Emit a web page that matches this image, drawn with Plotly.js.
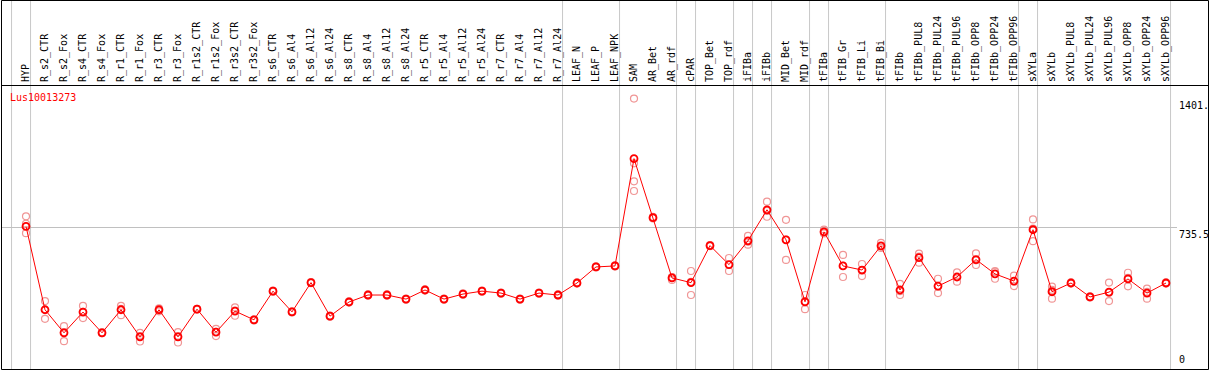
<!DOCTYPE html>
<html>
<head>
<meta charset="utf-8">
<script src="https://cdn.plot.ly/plotly-3.0.1.min.js"></script>
<style>html,body{margin:0;padding:0;background:#fff;}#chart{width:1209px;height:370px;}</style>
</head>
<body>
<div id="chart"></div>
<script>
const categories = ['HYP','R_s2_CTR','R_s2_Fox','R_s4_CTR','R_s4_Fox','R_r1_CTR','R_r1_Fox','R_r3_CTR','R_r3_Fox','R_r1s2_CTR','R_r1s2_Fox','R_r3s2_CTR','R_r3s2_Fox','R_s6_CTR','R_s6_Al4','R_s6_Al12','R_s6_Al24','R_s8_CTR','R_s8_Al4','R_s8_Al12','R_s8_Al24','R_r5_CTR','R_r5_Al4','R_r5_Al12','R_r5_Al24','R_r7_CTR','R_r7_Al4','R_r7_Al12','R_r7_Al24','LEAF_N','LEAF_P','LEAF_NPK','SAM','AR_Bet','AR_rdf','cPAR','TOP_Bet','TOP_rdf','iFIBa','iFIBb','MID_Bet','MID_rdf','tFIBa','tFIB_Gr','tFIB_Li','tFIB_Bi','tFIBb','tFIBb_PUL8','tFIBb_PUL24','tFIBb_PUL96','tFIBb_OPP8','tFIBb_OPP24','tFIBb_OPP96','sXYLa','sXYLb','sXYLb_PUL8','sXYLb_PUL24','sXYLb_PUL96','sXYLb_OPP8','sXYLb_OPP24','sXYLb_OPP96'];

const meanValues = [741,311,192,299,192,311,171,311,171,314,195,304,259,407,300,451,278,351,387,387,366,413,366,392,407,397,366,397,387,449,532,537,1091,786,475,451,642,544,667,827,672,352,713,537,516,641,413,580,433,480,570,496,459,724,404,449,377,402,470,397,449];

const rep1 = [793,356,226,331,195,331,192,318,195,316,212,323,262,410,303,454,281,354,390,390,369,416,369,395,410,400,369,400,390,452,535,540,1401,790,480,511,645,578,692,869,775,387,725,594,547,656,445,601,471,504,602,507,487,777,430,452,380,451,502,420,452];
const rep2 = [755,264,149,268,190,283,147,303,142,312,175,280,256,404,297,448,275,348,384,384,363,410,363,389,404,394,363,394,384,446,529,534,1067,782,465,387,639,511,647,791,568,314,705,480,485,630,387,554,397,456,542,471,433,665,368,446,374,356,432,368,446];
const rep3 = [706,311,195,300,192,315,175,311,175,314,197,306,259,407,300,451,278,351,387,387,366,413,366,392,407,397,366,397,387,449,532,537,974,786,478,455,642,543,662,821,673,355,710,537,516,638,407,585,431,480,566,510,457,730,414,449,377,399,476,403,449];
const rep4 = categories.map(c => c === 'SAM' ? 924 : null);

const groupEnds = ['HYP','R_r7_Al24','LEAF_NPK','AR_rdf','cPAR','TOP_rdf','iFIBa','iFIBb','MID_rdf','tFIBa','tFIB_Bi','tFIBb_OPP96','sXYLa','sXYLb_OPP96'];
const geneName = 'Lus10013273';
const yTickVals = [0, 735.5, 1401];
const yTickText = ['0', '735.5', '1401.'];

const yMax = 1401 * 1.05;
const W = 1209, H = 370, ML = 2, MR = 32, MT = 85, MB = 0;
const PW = W - ML - MR, PH = H - MT - MB;
const px = v => (v - ML) / PW;
const py = v => 1 - (v - MT) / PH;

const mono = 'DejaVu Sans Mono, monospace';

const repColor = 'rgb(240,150,150)';
const repTraces = [rep1, rep2, rep3, rep4].map(r => ({
  x: categories, y: r, type: 'scatter', mode: 'markers', hoverinfo: 'skip',
  marker: {symbol: 'circle-open', size: 7, color: repColor, line: {width: 1.2, color: repColor}}
}));
const meanTrace = {
  x: categories, y: meanValues, type: 'scatter', mode: 'lines+markers', hoverinfo: 'skip',
  line: {color: '#ff0000', width: 1},
  marker: {symbol: 'circle-open', size: 7, color: '#ff0000', line: {width: 1.8, color: '#ff0000'}}
};

const shapes = [];
const sepIdx = [-1].concat(groupEnds.map(g => categories.indexOf(g)));
sepIdx.forEach(i => shapes.push({
  type: 'line', xref: 'x', yref: 'paper', x0: i + 0.24, x1: i + 0.24, y0: 0, y1: py(0),
  line: {color: '#c8c8c8', width: 1}, layer: 'below'
}));
shapes.push({type: 'line', xref: 'paper', yref: 'paper', x0: px(1.5), x1: px(1208.5), y0: py(85.5), y1: py(85.5), line: {color: '#000', width: 1}});
shapes.push({type: 'rect', xref: 'paper', yref: 'paper', x0: px(1.5), x1: px(1208.5), y0: py(0.5), y1: py(369.5), line: {color: '#000', width: 1}});

const annotations = [{
  text: geneName, xref: 'paper', yref: 'paper', x: px(8), y: py(90), xanchor: 'left', yanchor: 'top',
  showarrow: false, font: {family: mono, size: 10, color: '#ff0000'}
}];
yTickVals.forEach((v, k) => annotations.push({
  text: yTickText[k], xref: 'paper', yref: 'y', x: px(1177), y: v,
  xanchor: 'left', yanchor: v === 0 ? 'bottom' : 'top', yshift: v === 0 ? 3 : 1,
  showarrow: false, font: {family: mono, size: 10, color: '#000'}
}));

const layout = {
  width: W, height: H, margin: {l: ML, r: MR, t: MT, b: MB, pad: 0},
  paper_bgcolor: '#fff', plot_bgcolor: '#fff', showlegend: false,
  xaxis: {
    type: 'category', categoryorder: 'array', categoryarray: categories,
    range: [(2 - 26) / 19, (1177 - 26) / 19], side: 'top', tickangle: -90,
    tickfont: {family: mono, size: 10, color: '#000'}, ticks: '', showgrid: false,
    zeroline: false, showline: false, ticklabelstandoff: 2, automargin: false
  },
  yaxis: {
    range: [0, yMax], tickvals: [yMax / 2], showticklabels: false, ticks: '',
    showgrid: true, gridcolor: '#c0c0c0', gridwidth: 1, zeroline: false, showline: false, automargin: false
  },
  shapes: shapes, annotations: annotations
};

Plotly.newPlot('chart', repTraces.concat([meanTrace]), layout, {staticPlot: true, displayModeBar: false});
</script>
</body>
</html>
